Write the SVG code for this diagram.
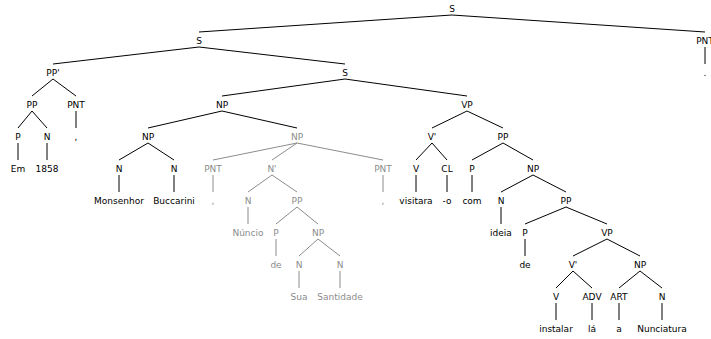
<svg xmlns="http://www.w3.org/2000/svg" width="711" height="339" viewBox="0 0 711 339">
  <style>
    text { font-family: "DejaVu Sans", "Liberation Sans", sans-serif; font-size: 9px; text-anchor: middle; fill: #000; }
    .g text, text.g { fill: #8c8c8c; }
    .edges line { stroke: #000; stroke-width: 1; }
    .edges line.g { stroke: #8c8c8c; }
  </style>
  <rect width="711" height="339" fill="#fff"/>

  <!-- connectors: parent bottom (baseline+3) to child top (baseline-12) -->
  <g id="connectors" class="edges">
    <line x1="452" y1="15" x2="199" y2="32"/>
    <line x1="452" y1="15" x2="705" y2="32"/>
    <line x1="199" y1="47" x2="53" y2="64"/>
    <line x1="199" y1="47" x2="345" y2="64"/>
    <line x1="705" y1="47" x2="705" y2="64"/>
    <line x1="53" y1="79" x2="32" y2="96"/>
    <line x1="53" y1="79" x2="76" y2="96"/>
    <line x1="345" y1="79" x2="222" y2="96"/>
    <line x1="345" y1="79" x2="467" y2="96"/>
    <line x1="32" y1="111" x2="18" y2="128"/>
    <line x1="32" y1="111" x2="47" y2="128"/>
    <line x1="76" y1="111" x2="76" y2="128"/>
    <line x1="222" y1="111" x2="148" y2="128"/>
    <line x1="222" y1="111" x2="297" y2="128"/>
    <line x1="467" y1="111" x2="432" y2="128"/>
    <line x1="467" y1="111" x2="503" y2="128"/>
    <line x1="18" y1="143" x2="18" y2="160"/>
    <line x1="47" y1="143" x2="47" y2="160"/>
    <line x1="148" y1="143" x2="119" y2="160"/>
    <line x1="148" y1="143" x2="174" y2="160"/>
    <line class="g" x1="297" y1="143" x2="213" y2="160"/>
    <line class="g" x1="297" y1="143" x2="272" y2="160"/>
    <line class="g" x1="297" y1="143" x2="383" y2="160"/>
    <line x1="432" y1="143" x2="416" y2="160"/>
    <line x1="432" y1="143" x2="447" y2="160"/>
    <line x1="503" y1="143" x2="472" y2="160"/>
    <line x1="503" y1="143" x2="533" y2="160"/>
    <line x1="119" y1="175" x2="119" y2="192"/>
    <line x1="174" y1="175" x2="174" y2="192"/>
    <line class="g" x1="213" y1="175" x2="213" y2="192"/>
    <line class="g" x1="272" y1="175" x2="248" y2="192"/>
    <line class="g" x1="272" y1="175" x2="297" y2="192"/>
    <line class="g" x1="383" y1="175" x2="383" y2="192"/>
    <line x1="416" y1="175" x2="416" y2="192"/>
    <line x1="447" y1="175" x2="447" y2="192"/>
    <line x1="472" y1="175" x2="472" y2="192"/>
    <line x1="533" y1="175" x2="501" y2="192"/>
    <line x1="533" y1="175" x2="566" y2="192"/>
    <line class="g" x1="248" y1="207" x2="248" y2="224"/>
    <line class="g" x1="297" y1="207" x2="276" y2="224"/>
    <line class="g" x1="297" y1="207" x2="318" y2="224"/>
    <line x1="501" y1="207" x2="501" y2="224"/>
    <line x1="566" y1="207" x2="525" y2="224"/>
    <line x1="566" y1="207" x2="607" y2="224"/>
    <line class="g" x1="276" y1="239" x2="276" y2="256"/>
    <line class="g" x1="318" y1="239" x2="299" y2="256"/>
    <line class="g" x1="318" y1="239" x2="340" y2="256"/>
    <line x1="525" y1="239" x2="525" y2="256"/>
    <line x1="607" y1="239" x2="573" y2="256"/>
    <line x1="607" y1="239" x2="640" y2="256"/>
    <line class="g" x1="299" y1="271" x2="299" y2="288"/>
    <line class="g" x1="340" y1="271" x2="340" y2="288"/>
    <line x1="573" y1="271" x2="556" y2="288"/>
    <line x1="573" y1="271" x2="592" y2="288"/>
    <line x1="640" y1="271" x2="619" y2="288"/>
    <line x1="640" y1="271" x2="662" y2="288"/>
    <line x1="556" y1="303" x2="556" y2="320"/>
    <line x1="592" y1="303" x2="592" y2="320"/>
    <line x1="619" y1="303" x2="619" y2="320"/>
    <line x1="662" y1="303" x2="662" y2="320"/>
  </g>

  <!-- nodes -->
  <g id="n-S0"><text x="452" y="12">S</text></g>
  <g id="n-S1"><text x="199" y="44">S</text></g>
  <g id="n-PNT-end"><text x="705" y="44">PNT</text></g>
  <g id="n-PPbar"><text x="53" y="76">PP'</text></g>
  <g id="n-S2"><text x="345" y="76">S</text></g>
  <g id="w-period"><text x="705" y="76">.</text></g>
  <g id="n-PP1"><text x="32" y="108">PP</text></g>
  <g id="n-PNT1"><text x="76" y="108">PNT</text></g>
  <g id="n-NP1"><text x="222" y="108">NP</text></g>
  <g id="n-VP1"><text x="467" y="108">VP</text></g>
  <g id="n-P1"><text x="18" y="140">P</text></g>
  <g id="n-N1"><text x="47" y="140">N</text></g>
  <g id="w-comma1"><text x="76" y="140">,</text></g>
  <g id="n-NP2"><text x="148" y="140">NP</text></g>
  <g id="n-NP3" class="g"><text x="297" y="140">NP</text></g>
  <g id="n-Vbar1"><text x="432" y="140">V'</text></g>
  <g id="n-PP2"><text x="503" y="140">PP</text></g>
  <g id="w-Em"><text x="18" y="172">Em</text></g>
  <g id="w-1858"><text x="47" y="172">1858</text></g>
  <g id="n-N2"><text x="119" y="172">N</text></g>
  <g id="n-N3"><text x="174" y="172">N</text></g>
  <g id="n-PNT2" class="g"><text x="213" y="172">PNT</text></g>
  <g id="n-Nbar" class="g"><text x="272" y="172">N'</text></g>
  <g id="n-PNT3" class="g"><text x="383" y="172">PNT</text></g>
  <g id="n-V1"><text x="416" y="172">V</text></g>
  <g id="n-CL"><text x="447" y="172">CL</text></g>
  <g id="n-P2"><text x="472" y="172">P</text></g>
  <g id="n-NP4"><text x="533" y="172">NP</text></g>
  <g id="w-Monsenhor"><text x="119" y="204">Monsenhor</text></g>
  <g id="w-Buccarini"><text x="174" y="204">Buccarini</text></g>
  <g id="w-comma2" class="g"><text x="213" y="204">,</text></g>
  <g id="n-N4" class="g"><text x="248" y="204">N</text></g>
  <g id="n-PP3" class="g"><text x="297" y="204">PP</text></g>
  <g id="w-comma3" class="g"><text x="383" y="204">,</text></g>
  <g id="w-visitara"><text x="416" y="204">visitara</text></g>
  <g id="w-o"><text x="447" y="204">-o</text></g>
  <g id="w-com"><text x="472" y="204">com</text></g>
  <g id="n-N5"><text x="501" y="204">N</text></g>
  <g id="n-PP4"><text x="566" y="204">PP</text></g>
  <g id="w-Nuncio" class="g"><text x="248" y="236">Núncio</text></g>
  <g id="n-P3" class="g"><text x="276" y="236">P</text></g>
  <g id="n-NP5" class="g"><text x="318" y="236">NP</text></g>
  <g id="w-ideia"><text x="501" y="236">ideia</text></g>
  <g id="n-P4"><text x="525" y="236">P</text></g>
  <g id="n-VP2"><text x="607" y="236">VP</text></g>
  <g id="w-de1" class="g"><text x="276" y="268">de</text></g>
  <g id="n-N6" class="g"><text x="299" y="268">N</text></g>
  <g id="n-N7" class="g"><text x="340" y="268">N</text></g>
  <g id="w-de2"><text x="525" y="268">de</text></g>
  <g id="n-Vbar2"><text x="573" y="268">V'</text></g>
  <g id="n-NP6"><text x="640" y="268">NP</text></g>
  <g id="w-Sua" class="g"><text x="299" y="300">Sua</text></g>
  <g id="w-Santidade" class="g"><text x="340" y="300">Santidade</text></g>
  <g id="n-V2"><text x="556" y="300">V</text></g>
  <g id="n-ADV"><text x="592" y="300">ADV</text></g>
  <g id="n-ART"><text x="619" y="300">ART</text></g>
  <g id="n-N8"><text x="662" y="300">N</text></g>
  <g id="w-instalar"><text x="556" y="332">instalar</text></g>
  <g id="w-la"><text x="592" y="332">lá</text></g>
  <g id="w-a"><text x="619" y="332">a</text></g>
  <g id="w-Nunciatura"><text x="662" y="332">Nunciatura</text></g>
</svg>
